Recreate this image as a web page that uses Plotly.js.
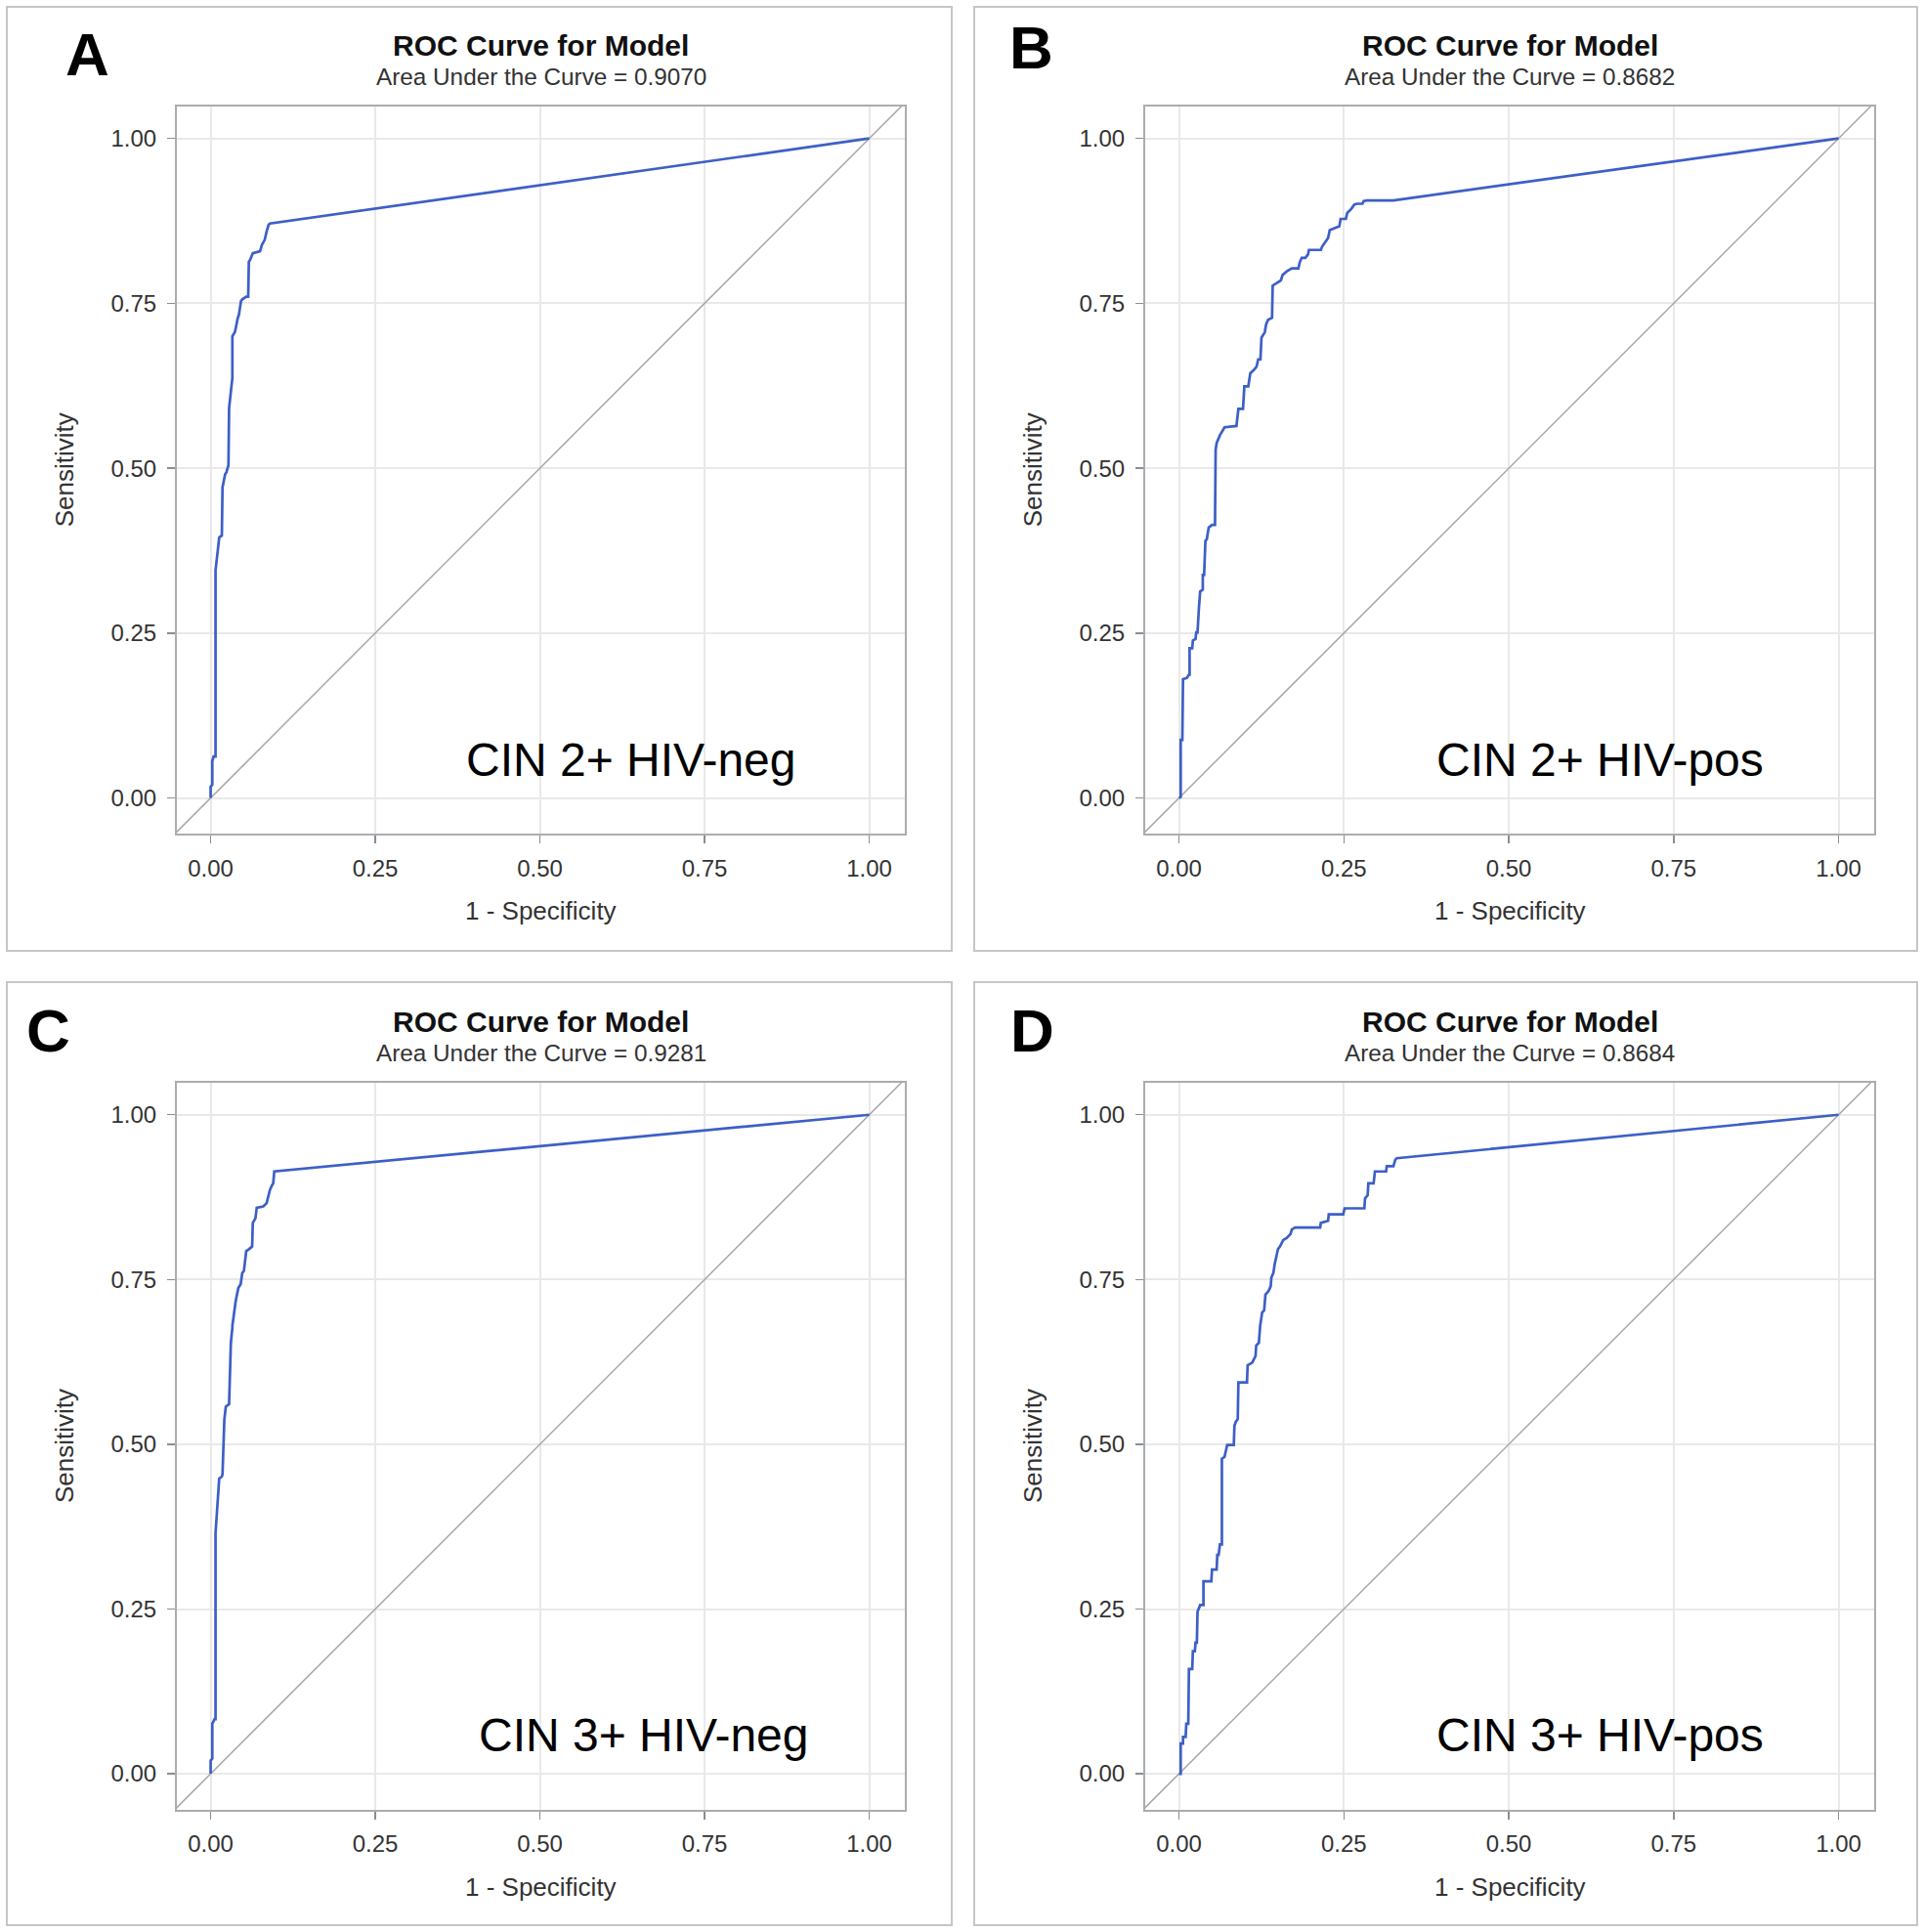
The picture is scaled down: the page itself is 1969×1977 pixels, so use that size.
<!DOCTYPE html>
<html><head><meta charset="utf-8">
<script src="https://cdn.plot.ly/plotly-3.0.1.min.js"></script>
<style>html,body{margin:0;padding:0;background:#fff}</style>
</head><body><div id="chart" style="width:1969px;height:1977px"></div>
<script>
// ---------- data ----------
const panelLetters = ["A", "B", "C", "D"];
const panelLabels = ["CIN 2+ HIV-neg", "CIN 2+ HIV-pos", "CIN 3+ HIV-neg", "CIN 3+ HIV-pos"];
const chartTitle = "ROC Curve for Model";
const aucValues = ["0.9070", "0.8682", "0.9281", "0.8684"];
const xAxisTitle = "1 - Specificity";
const yAxisTitle = "Sensitivity";
const tickValues = [0, 0.25, 0.5, 0.75, 1];
const tickLabels = ["0.00", "0.25", "0.50", "0.75", "1.00"];
const chanceLine = [-0.1, 1.1];

const fprA = [0, 0, 0.0025, 0.0025, 0.0045, 0.0074, 0.0074, 0.011, 0.013, 0.017, 0.018, 0.022, 0.024, 0.026, 0.027, 0.028, 0.031, 0.033, 0.033, 0.037, 0.041, 0.043, 0.046, 0.048, 0.054, 0.057, 0.058, 0.060, 0.064, 0.075, 0.078, 0.082, 0.085, 0.088, 0.090, 1];
const tprA = [0, 0.017, 0.020, 0.056, 0.063, 0.063, 0.345, 0.378, 0.395, 0.398, 0.471, 0.491, 0.494, 0.501, 0.504, 0.591, 0.614, 0.637, 0.700, 0.707, 0.727, 0.733, 0.753, 0.756, 0.760, 0.760, 0.813, 0.816, 0.826, 0.829, 0.839, 0.846, 0.859, 0.869, 0.871, 1];

const fprB = [0, 0.0025, 0.0025, 0.005, 0.006, 0.012, 0.015, 0.016, 0.016, 0.020, 0.021, 0.025, 0.026, 0.028, 0.030, 0.032, 0.036, 0.036, 0.038, 0.040, 0.042, 0.045, 0.050, 0.0545, 0.0555, 0.057, 0.062, 0.069, 0.087, 0.088, 0.090, 0.097, 0.099, 0.105, 0.108, 0.1135, 0.1175, 0.120, 0.1234, 0.125, 0.130, 0.132, 0.135, 0.141, 0.142, 0.147, 0.1545, 0.157, 0.164, 0.171, 0.181, 0.183, 0.186, 0.1915, 0.1955, 0.197, 0.215, 0.217, 0.226, 0.2285, 0.237, 0.243, 0.245, 0.253, 0.255, 0.261, 0.266, 0.270, 0.278, 0.280, 0.285, 0.325, 1];
const tprB = [0, 0.0015, 0.088, 0.088, 0.180, 0.182, 0.187, 0.187, 0.227, 0.227, 0.239, 0.241, 0.251, 0.251, 0.286, 0.313, 0.316, 0.338, 0.338, 0.390, 0.392, 0.410, 0.414, 0.414, 0.528, 0.538, 0.550, 0.562, 0.564, 0.575, 0.590, 0.590, 0.624, 0.624, 0.644, 0.649, 0.654, 0.665, 0.665, 0.698, 0.706, 0.718, 0.725, 0.728, 0.777, 0.780, 0.785, 0.793, 0.799, 0.803, 0.803, 0.812, 0.819, 0.819, 0.824, 0.831, 0.831, 0.836, 0.849, 0.861, 0.865, 0.867, 0.878, 0.878, 0.887, 0.893, 0.900, 0.901, 0.901, 0.905, 0.906, 0.906, 1];

const fprC = [0, 0, 0.0025, 0.0025, 0.006, 0.0074, 0.0074, 0.011, 0.013, 0.017, 0.018, 0.0208, 0.023, 0.028, 0.0307, 0.033, 0.033, 0.038, 0.042, 0.0456, 0.048, 0.0505, 0.054, 0.058, 0.063, 0.064, 0.068, 0.070, 0.080, 0.085, 0.087, 0.090, 0.093, 0.095, 0.0966, 1];
const tprC = [0, 0.020, 0.023, 0.076, 0.083, 0.083, 0.365, 0.428, 0.448, 0.451, 0.4545, 0.5375, 0.557, 0.561, 0.654, 0.677, 0.680, 0.717, 0.737, 0.743, 0.760, 0.763, 0.793, 0.796, 0.800, 0.836, 0.843, 0.859, 0.861, 0.866, 0.876, 0.886, 0.8925, 0.896, 0.914, 1];

const fprD = [0, 0.0025, 0.0025, 0.006, 0.006, 0.010, 0.011, 0.014, 0.015, 0.020, 0.021, 0.024, 0.025, 0.027, 0.028, 0.032, 0.037, 0.037, 0.049, 0.050, 0.057, 0.058, 0.060, 0.062, 0.065, 0.065, 0.069, 0.073, 0.083, 0.084, 0.086, 0.089, 0.090, 0.103, 0.104, 0.111, 0.116, 0.117, 0.121, 0.123, 0.126, 0.129, 0.131, 0.136, 0.139, 0.140, 0.143, 0.145, 0.150, 0.153, 0.158, 0.163, 0.169, 0.171, 0.176, 0.214, 0.215, 0.226, 0.227, 0.249, 0.251, 0.281, 0.282, 0.286, 0.287, 0.295, 0.297, 0.314, 0.315, 0.325, 0.328, 0.330, 1];
const tprD = [0, 0, 0.046, 0.046, 0.056, 0.056, 0.076, 0.076, 0.159, 0.159, 0.186, 0.186, 0.199, 0.199, 0.246, 0.256, 0.256, 0.292, 0.292, 0.310, 0.310, 0.332, 0.332, 0.348, 0.348, 0.478, 0.481, 0.499, 0.499, 0.528, 0.534, 0.538, 0.594, 0.594, 0.620, 0.624, 0.634, 0.650, 0.654, 0.680, 0.700, 0.703, 0.727, 0.733, 0.740, 0.753, 0.760, 0.773, 0.796, 0.800, 0.810, 0.813, 0.819, 0.826, 0.829, 0.829, 0.836, 0.839, 0.849, 0.849, 0.858, 0.858, 0.873, 0.878, 0.896, 0.896, 0.914, 0.914, 0.922, 0.922, 0.932, 0.934, 1];

const fprSets = [fprA, fprB, fprC, fprD];
const tprSets = [tprA, tprB, tprC, tprD];

// ---------- layout geometry (pixels in the 1969x1977 figure) ----------
const W = 1969, H = 1977;
const px = v => v / W;
const py = v => 1 - v / H;
const plotBoxes = [
  {l: 181, r: 926, t: 108.6, b: 853},
  {l: 1172, r: 1918, t: 108.6, b: 853},
  {l: 181, r: 926, t: 1107.7, b: 1851.5},
  {l: 1172, r: 1918, t: 1107.7, b: 1851.5}
];
const panelFrames = [
  {l: 7, r: 974, t: 7, b: 973},
  {l: 997, r: 1962, t: 7, b: 973},
  {l: 7, r: 974, t: 1005, b: 1970},
  {l: 997, r: 1962, t: 1005, b: 1970}
];
const letterPos = [[89, 55], [1055, 48.5], [49, 1054], [1056, 1054]];
const xRange = [-0.0513, 1.054];
const yRange = [-0.054, 1.049];

const FONT = "Liberation Sans, Arial, sans-serif";
const curveColor = "#3d5fc6";
const gridColor = "#e9e9e9";
const frameColor = "#a9adb1";

const data = [];
const layout = {
  width: W, height: H,
  margin: {l: 0, r: 0, t: 0, b: 0},
  paper_bgcolor: "#ffffff",
  plot_bgcolor: "#ffffff",
  showlegend: false,
  font: {family: FONT, color: "#333333"},
  annotations: [],
  shapes: []
};

for (let i = 0; i < 4; i++) {
  const n = i === 0 ? "" : String(i + 1);
  const xa = "x" + n, ya = "y" + n;
  const box = plotBoxes[i];
  const axisCommon = {
    tickmode: "array",
    tickvals: tickValues,
    ticktext: tickLabels,
    ticks: "outside",
    ticklen: 8,
    tickwidth: 1.5,
    tickcolor: "#8a8e92",
    tickfont: {family: FONT, size: 24, color: "#333333"},
    showgrid: true,
    gridcolor: gridColor,
    gridwidth: 2,
    zeroline: false,
    showline: true,
    linecolor: frameColor,
    linewidth: 2,
    mirror: true,
    fixedrange: true
  };
  layout["xaxis" + n] = Object.assign({}, axisCommon, {
    domain: [px(box.l), px(box.r)],
    range: xRange,
    anchor: ya,
    ticklabelstandoff: 5
  });
  layout["yaxis" + n] = Object.assign({}, axisCommon, {
    domain: [py(box.b), py(box.t)],
    range: yRange,
    anchor: xa,
    ticklabelstandoff: 6
  });

  // chance diagonal
  data.push({
    type: "scatter", mode: "lines", x: chanceLine, y: chanceLine,
    xaxis: xa, yaxis: ya, hoverinfo: "skip",
    line: {color: "#a8a8a8", width: 1.5}
  });
  // ROC curve
  data.push({
    type: "scatter", mode: "lines", x: fprSets[i], y: tprSets[i],
    xaxis: xa, yaxis: ya,
    line: {color: curveColor, width: 2.7}
  });

  const cx = (box.l + box.r) / 2;
  const dy = box.t - 108.6;
  // panel frame
  const fr = panelFrames[i];
  layout.shapes.push({
    type: "rect", xref: "paper", yref: "paper",
    x0: px(fr.l), x1: px(fr.r), y0: py(fr.b), y1: py(fr.t),
    line: {color: "#c6c6c6", width: 2}, fillcolor: "rgba(0,0,0,0)", layer: "below"
  });
  // titles
  layout.annotations.push({
    xref: "paper", yref: "paper", x: px(cx), y: py(46.6 + dy),
    xanchor: "center", yanchor: "middle", showarrow: false,
    text: "<b>" + chartTitle + "</b>",
    font: {family: FONT, size: 30, color: "#111111"}
  });
  layout.annotations.push({
    xref: "paper", yref: "paper", x: px(cx), y: py(78.5 + dy),
    xanchor: "center", yanchor: "middle", showarrow: false,
    text: "Area Under the Curve = " + aucValues[i],
    font: {family: FONT, size: 24.3, color: "#333333"}
  });
  // axis titles
  layout.annotations.push({
    xref: "paper", yref: "paper", x: px(cx), y: py(931.6 + dy),
    xanchor: "center", yanchor: "middle", showarrow: false,
    text: xAxisTitle,
    font: {family: FONT, size: 26, color: "#333333"}
  });
  layout.annotations.push({
    xref: "paper", yref: "paper", x: px(box.l - 115.5), y: py((box.t + box.b) / 2),
    xanchor: "center", yanchor: "middle", showarrow: false, textangle: -90,
    text: yAxisTitle,
    font: {family: FONT, size: 26, color: "#333333"}
  });
  // panel label inside plot
  layout.annotations.push({
    xref: xa, yref: ya, x: i === 2 ? 0.658 : 0.639, y: 0.058,
    xanchor: "center", yanchor: "middle", showarrow: false,
    text: panelLabels[i],
    font: {family: FONT, size: 48, color: "#000000"}
  });
  // panel letter
  layout.annotations.push({
    xref: "paper", yref: "paper", x: px(letterPos[i][0]), y: py(letterPos[i][1]),
    xanchor: "center", yanchor: "middle", showarrow: false,
    text: "<b>" + panelLetters[i] + "</b>",
    font: {family: FONT, size: 62, color: "#000000"}
  });
}

Plotly.newPlot("chart", data, layout, {staticPlot: true, displayModeBar: false});
</script>
</body></html>
